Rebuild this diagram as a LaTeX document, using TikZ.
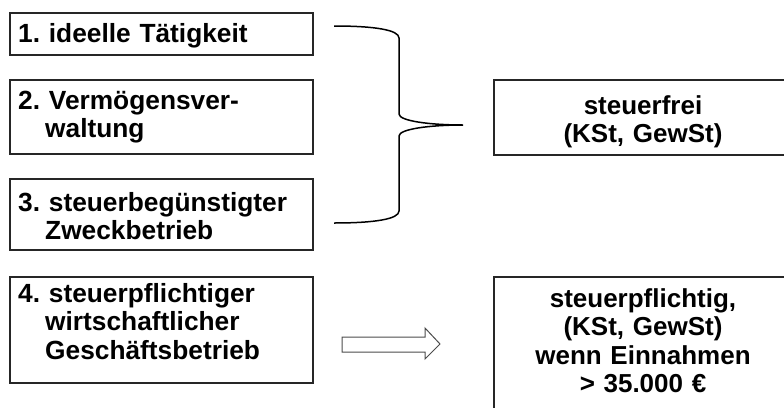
\documentclass[tikz,border=0pt]{standalone}
\usepackage{fontspec}
\setmainfont{Liberation Sans}
\frenchspacing
\begin{document}
\begin{tikzpicture}[x=1pt,y=-1pt,
  box/.style={draw=black!85, line width=1.5pt, fill=white, anchor=north west, inner sep=0pt},
  ltxt/.style={anchor=base west, inner sep=0pt, text width=290pt, align=left,
    font=\fontsize{26.3}{28.5}\selectfont\bfseries\frenchspacing},
  rtxt/.style={anchor=base, inner sep=0pt, text width=300pt, align=center,
    font=\fontsize{26}{28.5}\selectfont\bfseries\frenchspacing},
  brace/.style={draw=black, line width=1.5pt},
  blockarrow/.style={draw=black!70, line width=1pt, fill=white, line join=miter}]
\useasboundingbox (0,0) rectangle (784,407);
\begin{scope}
\clip (0,0) rectangle (784,407);
% left boxes
\node[box, minimum width=303pt, minimum height=42pt] (b1) at (9,12) {};
\node[box, minimum width=303pt, minimum height=74pt] (b2) at (9,79) {};
\node[box, minimum width=303pt, minimum height=71pt] (b3) at (9,178) {};
\node[box, minimum width=303pt, minimum height=106pt] (b4) at (9,276) {};
% right boxes
\node[box, minimum width=300pt, minimum height=75pt] (r1) at (493,79) {};
\node[box, minimum width=300pt, minimum height=160pt] (r2) at (493,276) {};
% texts
\node[ltxt] (t1) at (18,42) {1. ideelle Tätigkeit};
\node[ltxt] (t2) at (18,109) {2. Vermögensver-\\\hspace*{27pt}waltung};
\node[ltxt] (t3) at (18,211) {3. steuerbegünstigter\\\hspace*{27pt}Zweckbetrieb};
\node[ltxt] (t4) at (18,302) {4. steuerpflichtiger\\\hspace*{27pt}wirtschaftlicher\\\hspace*{27pt}Geschäftsbetrieb};
\node[rtxt] (u1) at (643,114) {steuerfrei\\(KSt, GewSt)};
\node[rtxt] (u2) at (643,307) {steuerpflichtig,\\(KSt, GewSt)\\wenn Einnahmen\\> 35.000 €};
\end{scope}
% brace
\coordinate (bt) at (334,26);
\coordinate (bm) at (463,125);
\coordinate (bb) at (334,223);
\path[brace] (bt) .. controls (375,26) and (399,30) .. (399,38)
  -- (399,114) .. controls (399,121) and (430,125) .. (bm)
  .. controls (430,125) and (399,129) .. (399,136)
  -- (399,211) .. controls (399,219) and (375,223) .. (bb);
% block arrow
\coordinate (as) at (342,344);
\coordinate (at) at (440,344);
\path[blockarrow] (342,337) -- (425,337) -- (425,328) -- (at) -- (425,359)
  -- (425,352) -- (342,352) -- cycle;
\end{tikzpicture}
\end{document}
